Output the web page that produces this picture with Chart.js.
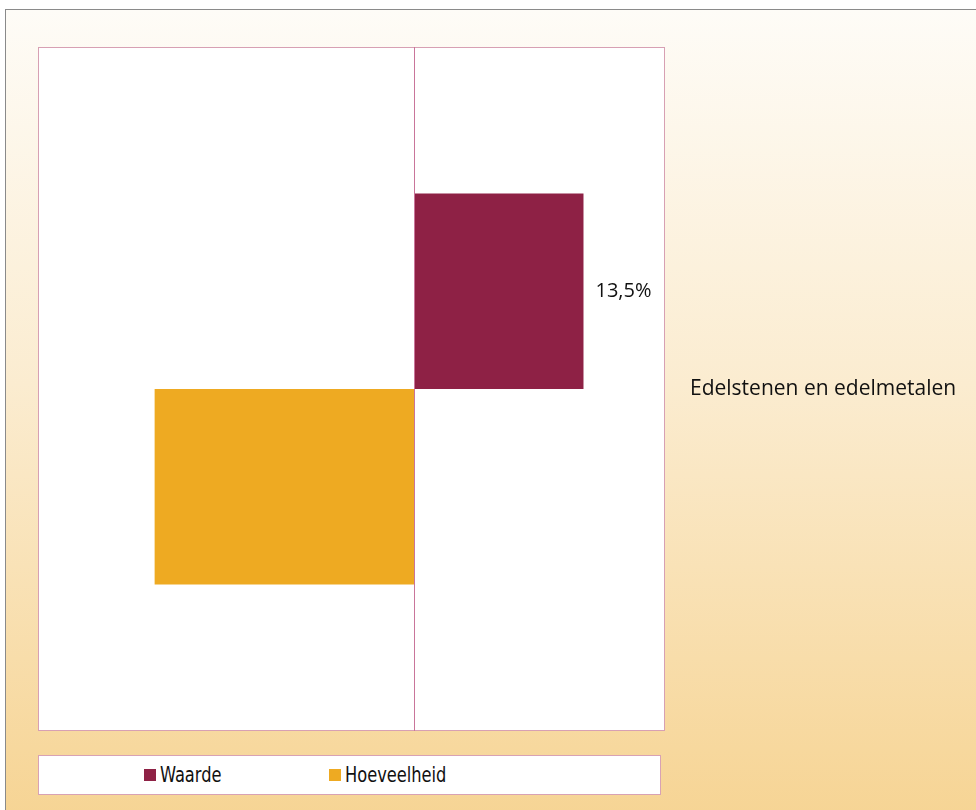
<!DOCTYPE html>
<html>
<head>
<meta charset="utf-8">
<script src="https://cdn.jsdelivr.net/npm/chart.js@4.4.0/dist/chart.umd.min.js"></script>
<style>
  body { margin: 0; width: 976px; height: 810px; overflow: hidden; background: #fff; font-family: "Open Sans", sans-serif; }
  #frame { position: absolute; left: 5px; top: 9px; width: 1000px; height: 830px; border: 1px solid #8a8a8a;
           background: linear-gradient(to bottom, #fefcf7 0%, #fbecd0 45%, #f6d391 100%); }
  #chart { position: absolute; left: 0; top: 0; }
  #legend { position: absolute; left: 38px; top: 755px; background: #fff; border: 1px solid #d8a2b4;
            box-sizing: border-box; width: 623px; height: 40px;
            font-family: "Liberation Sans Narrow", "DejaVu Sans Condensed", sans-serif; font-size: 21px; color: #111; }
  #legend span.item { position: absolute; top: 0; height: 38px; display: flex; align-items: center; white-space: nowrap; }
  #legend span.item:nth-child(1) { left: 105px; }
  #legend span.item:nth-child(2) { left: 290px; }
  #legend i { display: inline-block; width: 12px; height: 12px; margin-right: 4px; }
  #legend b { font-weight: normal; display: inline-block; transform: scaleX(0.86); transform-origin: left center; }
</style>
</head>
<body>
<div id="frame"></div>
<canvas id="chart" width="976" height="810"></canvas>
<div id="legend"></div>
<script>
// data
const categories = ['Edelstenen en edelmetalen'];
const seriesNames = ['Waarde', 'Hoeveelheid'];
const waarde = [13.5];
const hoeveelheid = [-20.7];
const waardeLabels = ['13,5%'];
const colors = ['#8e2145', '#eeaa22'];
const xMin = -30, xMax = 20;

// white plot area with pink border
const plotArea = {
    id: 'plotArea',
    beforeDraw(chart) {
        const a = chart.chartArea, c = chart.ctx;
        c.save();
        c.fillStyle = '#fff';
        c.fillRect(a.left, a.top, a.right - a.left, a.bottom - a.top);
        c.restore();
    },
    afterDraw(chart) {
        const a = chart.chartArea, c = chart.ctx;
        c.save();
        c.strokeStyle = '#d7a0b3';
        c.lineWidth = 1;
        c.strokeRect(a.left + 0.5, a.top + 0.5, a.right - a.left - 1, a.bottom - a.top - 1);
        // zero line
        const x0 = Math.round(chart.scales.x.getPixelForValue(0)) + 0.5;
        c.strokeStyle = '#c9759a';
        c.beginPath();
        c.moveTo(x0, a.top);
        c.lineTo(x0, a.bottom);
        c.stroke();
        c.restore();
    }
};

// value labels for Waarde
const barLabels = {
    id: 'barLabels',
    afterDatasetsDraw(chart) {
        const c = chart.ctx;
        const meta = chart.getDatasetMeta(0);
        c.save();
        c.font = '20px "Open Sans", sans-serif';
        c.fillStyle = '#111';
        c.textAlign = 'left';
        c.textBaseline = 'middle';
        meta.data.forEach((bar, i) => {
            if (waardeLabels[i]) c.fillText(waardeLabels[i], bar.x + 12, bar.y);
        });
        c.restore();
    }
};

new Chart(document.getElementById('chart'), {
    type: 'bar',
    data: {
        labels: categories,
        datasets: [{
            label: seriesNames[0],
            data: waarde,
            backgroundColor: colors[0]
        }, {
            label: seriesNames[1],
            data: hoeveelheid,
            backgroundColor: colors[1]
        }]
    },
    options: {
        indexAxis: 'y',
        responsive: false,
        animation: false,
        devicePixelRatio: 1,
        categoryPercentage: 0.572,
        barPercentage: 1,
        layout: { padding: { left: 38, top: 47, bottom: 79, right: 0 } },
        scales: {
            x: {
                min: xMin,
                max: xMax,
                display: false
            },
            y: {
                position: 'right',
                grid: { display: false, drawTicks: false },
                border: { display: false },
                ticks: {
                    padding: 25,
                    color: '#111',
                    font: { family: '"Open Sans", sans-serif', size: 21 },
                    crossAlign: 'near'
                },
                afterFit(scale) { scale.width = 311; }
            }
        },
        plugins: {
            legend: { display: false },
            tooltip: { enabled: false }
        }
    },
    plugins: [plotArea, barLabels]
});

// legend
const legend = document.getElementById('legend');
seriesNames.forEach((name, i) => {
    const item = document.createElement('span');
    item.className = 'item';
    item.innerHTML = '<i style="background:' + colors[i] + '"></i><b>' + name + '</b>';
    legend.appendChild(item);
});
</script>
</body>
</html>
